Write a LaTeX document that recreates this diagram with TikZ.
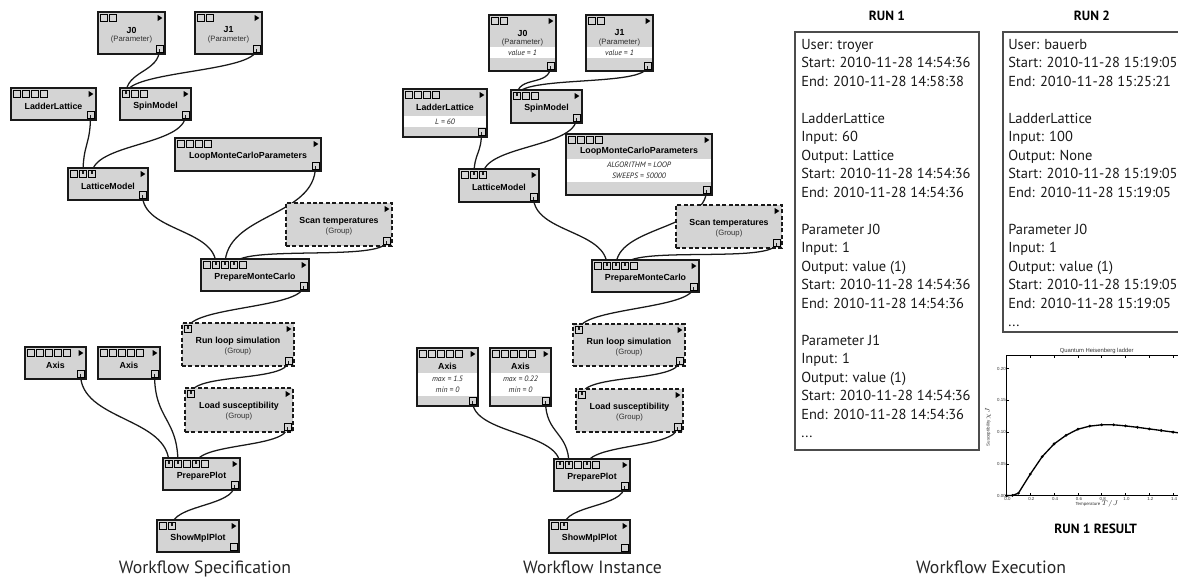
\documentclass[tikz,border=0pt]{standalone}
\usepackage{fontspec}
\setmainfont{Liberation Sans}
\newfontfamily\myr{PT Sans}
\newfontfamily\myi{PT Sans}
\usetikzlibrary{fit,calc}
\pgfdeclarelayer{background}
\pgfsetlayers{background,main}
\definecolor{boxgray}{RGB}{212,212,212}
\tikzset{
 wbox/.style={draw=black!90, line width=1pt, fill=boxgray, inner sep=0pt, outer sep=0pt},
 grp/.style={dash pattern=on 3pt off 1.8pt},
 selbox/.style={line width=1.8pt},
 port/.style={draw=black, line width=0.6pt, fill=boxgray, minimum size=5.2pt, inner sep=0pt, outer sep=0pt},
 tri/.style={fill=black},
 ttl/.style={font=\fontsize{6.6}{7}\selectfont\bfseries, inner sep=0pt},
 sub/.style={font=\fontsize{5.8}{6.5}\selectfont, text=black!80, inner sep=0pt},
 val/.style={font=\myi\itshape\fontsize{5.8}{7}\selectfont, text=black!85, inner sep=0pt},
 wire/.style={line width=0.95pt, draw=black!90},
 run/.style={font=\myr\fontsize{10.85}{13}\selectfont, anchor=base west, inner sep=0pt, text=black!90},
 runhead/.style={font=\myr\bfseries\fontsize{10}{12}\selectfont, inner sep=0pt},
 runbox/.style={draw=black!70, line width=0.9pt, inner sep=0pt, outer sep=0pt},
 panel/.style={font=\myr\fontsize{13.3}{15}\selectfont, inner sep=0pt, text=black!85, anchor=base},
 tick/.style={font=\fontsize{3.3}{4}\selectfont, inner sep=0pt, text=black!80},
}
\newcommand\wfbox[7]{%
 \node[wbox,#7,fit={(#2,#3) (#4,#5)}] (#1) {};
 \fill[tri] (#4-7.3,#3+3) -- (#4-2.7,#3+6) -- (#4-7.3,#3+9) -- cycle;
 \node[port] (#1-o) at (#4-5.5,#5-5) {};
 \ifnum#6>0 \foreach \k in {1,...,#6}{\node[port] (#1-i\k) at ({#2+6+9*(\k-1)},#3+6) {};}\fi
}
\newcommand\wfband[4]{\fill[white] (#1,#3) rectangle (#2,#4);}
\newcommand\wfwire[2]{%
 \begin{pgfonlayer}{background}
 \draw[wire] let \p1=(#1.center), \p2=(#2.center), \n1={max(16,0.52*abs(\y2-\y1))} in
   (\p1) .. controls +(0pt,{-1pt*\n1}) and +(0pt,{1pt*\n1}) .. (\p2);
 \end{pgfonlayer}
 \draw[wire] (#1.center) -- (#1.south);
 \draw[wire] (#2.north) -- (#2.center);
}
\begin{document}
\begin{tikzpicture}[x=0.75pt,y=-0.75pt]
\useasboundingbox (0,0) rectangle (1178,578);
%================ Workflow Specification
\wfbox{sJ0}{98}{12}{165}{54}{2}{}
\node[ttl] (sJ0t) at (131.5,30) {J0};
\node[sub] (sJ0s) at (131.5,39.5) {(Parameter)};
\wfbox{sJ1}{195}{12}{262}{54}{2}{}
\node[ttl] (sJ1t) at (228.5,30) {J1};
\node[sub] (sJ1s) at (228.5,39.5) {(Parameter)};
\wfbox{sLL}{11}{88}{96}{120}{4}{}
\node[ttl] (sLLt) at (53.5,106.5) {LadderLattice};
\wfbox{sSM}{120}{88}{191}{120}{3}{}
\node[ttl] (sSMt) at (155.5,106.5) {SpinModel};
\wfbox{sLMC}{175}{138}{321}{171}{4}{}
\node[ttl] (sLMCt) at (248,156) {LoopMonteCarloParameters};
\wfbox{sLM}{68}{168}{148}{200}{3}{}
\node[ttl] (sLMt) at (108,186) {LatticeModel};
\wfbox{sST}{286}{203}{392}{246}{0}{grp}
\node[ttl] (sSTt) at (339,221.5) {Scan temperatures};
\node[sub] (sSTs) at (339,231) {(Group)};
\wfbox{sPMC}{201}{259}{309}{291}{5}{}
\node[ttl] (sPMCt) at (255,277) {PrepareMonteCarlo};
\wfbox{sRL}{182}{323}{294}{366}{1}{grp}
\node[ttl] (sRLt) at (238,341.5) {Run loop simulation};
\node[sub] (sRLs) at (238,351) {(Group)};
\wfbox{sAX1}{25}{347}{86}{379}{5}{}
\node[ttl] (sAX1t) at (55.5,365) {Axis};
\wfbox{sAX2}{98}{347}{160}{379}{5}{}
\node[ttl] (sAX2t) at (129,365) {Axis};
\wfbox{sLS}{185}{388}{293}{432}{1}{grp}
\node[ttl] (sLSt) at (239,406.5) {Load susceptibility};
\node[sub] (sLSs) at (239,416) {(Group)};
\wfbox{sPP}{163}{458}{240}{490}{5}{}
\node[ttl] (sPPt) at (201.5,476) {PreparePlot};
\wfbox{sSMP}{157}{520}{239}{552}{2}{}
\node[ttl] (sSMPt) at (198,538) {ShowMplPlot};
\node[panel] (lspec) at (205,573) {Workflow Specification};
%================ Workflow Instance
\wfbox{iJ0}{489}{15}{556}{71}{2}{}
\wfband{489.7}{555.3}{47}{58}
\node[ttl] (iJ0t) at (522.5,33) {J0};
\node[sub] (iJ0s) at (522.5,42.5) {(Parameter)};
\node[val] (iJ0v) at (522.5,52.5) {value = 1};
\wfbox{iJ1}{586}{15}{653}{71}{2}{}
\wfband{586.7}{652.3}{47}{58}
\node[ttl] (iJ1t) at (619.5,33) {J1};
\node[sub] (iJ1s) at (619.5,42.5) {(Parameter)};
\node[val] (iJ1v) at (619.5,52.5) {value = 1};
\wfbox{iLL}{403}{89}{487}{137}{4}{}
\wfband{403.7}{486.3}{116}{127}
\node[ttl] (iLLt) at (445,107.5) {LadderLattice};
\node[val] (iLLv) at (445,121.5) {L = 60};
\wfbox{iSM}{511}{90}{582}{123}{3}{}
\node[ttl] (iSMt) at (546.5,108.5) {SpinModel};
\wfbox{iLMC}{566}{134}{712}{195}{4}{}
\wfband{566.7}{711.3}{159}{182}
\node[ttl] (iLMCt) at (639,151) {LoopMonteCarloParameters};
\node[val] (iLMCv1) at (639,164.5) {ALGORITHM = LOOP};
\node[val] (iLMCv2) at (639,175.5) {SWEEPS = 50000};
\wfbox{iLM}{459}{169}{539}{202}{3}{}
\node[ttl] (iLMt) at (499,187) {LatticeModel};
\wfbox{iST}{676}{205}{782}{248}{0}{grp}
\node[ttl] (iSTt) at (729,223.5) {Scan temperatures};
\node[sub] (iSTs) at (729,233) {(Group)};
\wfbox{iPMC}{592}{260}{699}{292}{5}{}
\node[ttl] (iPMCt) at (645.5,278) {PrepareMonteCarlo};
\wfbox{iRL}{573}{324}{685}{366}{1}{grp}
\node[ttl] (iRLt) at (629,342.5) {Run loop simulation};
\node[sub] (iRLs) at (629,352) {(Group)};
\wfbox{iAX1}{417}{348}{478}{406}{5}{selbox}
\wfband{418.2}{476.8}{373}{396}
\node[ttl] (iAX1t) at (447.5,366) {Axis};
\node[val] (iAX1v1) at (447.5,378.5) {max = 1.5};
\node[val] (iAX1v2) at (447.5,389.5) {min = 0};
\wfbox{iAX2}{490}{348}{551}{406}{5}{}
\wfband{490.7}{550.3}{373}{396}
\node[ttl] (iAX2t) at (520.5,366) {Axis};
\node[val] (iAX2v1) at (520.5,378.5) {max = 0.22};
\node[val] (iAX2v2) at (520.5,389.5) {min = 0};
\wfbox{iLS}{576}{389}{683}{432}{1}{grp}
\node[ttl] (iLSt) at (629.5,407.5) {Load susceptibility};
\node[sub] (iLSs) at (629.5,417) {(Group)};
\wfbox{iPP}{554}{459}{630}{491}{5}{}
\node[ttl] (iPPt) at (592,477) {PreparePlot};
\wfbox{iSMP}{549}{520}{630}{553}{2}{}
\node[ttl] (iSMPt) at (589.5,538.5) {ShowMplPlot};
\node[panel] (linst) at (592.5,573) {Workflow Instance};
%================ wires
\foreach \w in {s,i}{
 \wfwire{\w J0-o}{\w SM-i1}
 \wfwire{\w J1-o}{\w SM-i1}
 \wfwire{\w LL-o}{\w LM-i2}
 \wfwire{\w SM-o}{\w LM-i3}
 \wfwire{\w LM-o}{\w PMC-i2}
 \wfwire{\w LMC-o}{\w PMC-i3}
 \wfwire{\w ST-o}{\w PMC-i4}
 \wfwire{\w PMC-o}{\w RL-i1}
 \wfwire{\w RL-o}{\w LS-i1}
 \wfwire{\w AX1-o}{\w PP-i1}
 \wfwire{\w AX2-o}{\w PP-i2}
 \wfwire{\w LS-o}{\w PP-i4}
 \wfwire{\w PP-o}{\w SMP-i2}
}
%================ Workflow Execution
\node[runhead] (h1) at (887,16) {RUN 1};
\node[runhead] (h2) at (1092,16) {RUN 2};
\node[runbox, fit={(795,32) (979,450)}] (run1) {};
\foreach \i/\t in {0/User: troyer, 1/Start: 2010-11-28 14:54:36, 2/End: 2010-11-28 14:58:38,
 4/LadderLattice, 5/Input: 60, 6/Output: Lattice, 7/Start: 2010-11-28 14:54:36, 8/End: 2010-11-28 14:54:36,
 10/Parameter J0, 11/Input: 1, 12/Output: value (1), 13/Start: 2010-11-28 14:54:36, 14/End: 2010-11-28 14:54:36,
 16/Parameter J1, 17/Input: 1, 18/Output: value (1), 19/Start: 2010-11-28 14:54:36, 20/End: 2010-11-28 14:54:36}
 \node[run] (ra\i) at (801,{49+18.5*\i}) {\t};
\node[run] (ra21) at (801,{49+18.5*21}) {...};
\begin{scope}
\clip (0,0) rectangle (1178,578);
\node[runbox, fit={(1003,32) (1195,332)}] (run2) {};
\foreach \i/\t in {0/User: bauerb, 1/Start: 2010-11-28 15:19:05, 2/End: 2010-11-28 15:25:21,
 4/LadderLattice, 5/Input: 100, 6/Output: None, 7/Start: 2010-11-28 15:19:05, 8/End: 2010-11-28 15:19:05,
 10/Parameter J0, 11/Input: 1, 12/Output: value (1), 13/Start: 2010-11-28 15:19:05, 14/End: 2010-11-28 15:19:05}
 \node[run] (rb\i) at (1008,{49+18.5*\i}) {\t};
\node[run] (rb15) at (1008,{49+18.5*15}) {...};
% plot
\node[tick, font=\fontsize{4.4}{5}\selectfont] (ptitle) at (1096.7,350.7) {Quantum Heisenberg ladder};
\draw[line width=0.9pt] (1195,355.7) -- (1006.5,355.7) -- (1006.5,495.7) -- (1195,495.7);
\foreach \k/\l in {0/0.0,1/0.2,2/0.4,3/0.6,4/0.8,5/1.0,6/1.2,7/1.4}{
 \draw[line width=0.4pt] ({1006.5+23.8*\k},495.7) -- ++(0,-2.5);
 \draw[line width=0.4pt] ({1006.5+23.8*\k},355.7) -- ++(0,2.5);
 \node[tick] (xt\k) at ({1007.5+23.8*\k},499) {\l};
}
\foreach \k/\l in {0/0.00,1/0.05,2/0.10,3/0.15,4/0.20}{
 \draw[line width=0.4pt] (1006.5,{495.7-31.8*\k}) -- ++(2.5,0);
 \node[tick, anchor=east] (yt\k) at (1006,{495.7-31.8*\k}) {\l};
}
\node[tick, rotate=90] (ylab) at (988,427) {Susceptibility $\chi J$};
\node[tick] (xlab) at (1097,504) {Temperature $T/J$};
\draw[line width=1pt, mark=*, mark size=0.45pt] plot coordinates {
 (1006.5,495.7) (1012.45,495.4) (1018.4,493.2) (1030.3,474.1) (1042.2,456.6) (1054.1,443.9)
 (1066,435.3) (1077.9,429.2) (1089.8,426.1) (1101.7,424.8) (1113.6,424.8) (1125.5,425.9)
 (1137.4,427.3) (1149.3,428.9) (1161.2,430.5) (1173.1,432.1) (1185,433.7)};
\end{scope}
\node[runhead] (res) at (1095.7,529) {RUN 1 RESULT};
\node[panel] (lexec) at (991,573) {Workflow Execution};
\end{tikzpicture}
\end{document}
